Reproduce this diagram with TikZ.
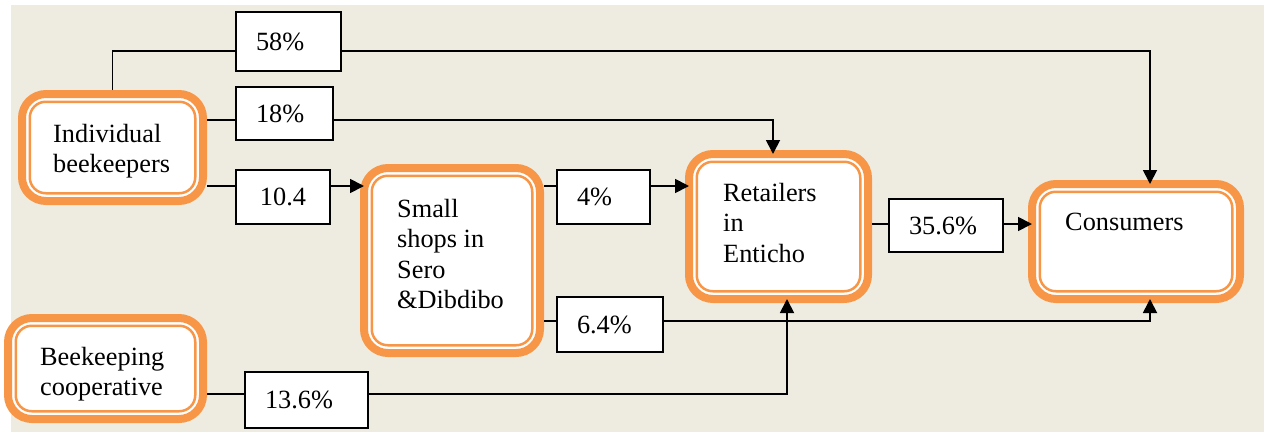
\documentclass[tikz,border=0pt]{standalone}
\usepackage{fontspec}
\setmainfont{Liberation Serif}
\usetikzlibrary{arrows.meta}
\definecolor{paper}{HTML}{EEECE1}
\definecolor{accent}{HTML}{F79646}
\newcommand{\innerring}[1]{%
  \draw[ringline] ([shift={(11.75,11.75)}]#1.north west) rectangle ([shift={(-11.75,-11.75)}]#1.south east);}
\begin{document}
\begin{tikzpicture}[x=1pt,y=-1pt,
  stage/.style={rectangle, draw=accent, line width=8pt, fill=white, rounded corners=24pt, inner sep=0pt},
  ringline/.style={draw=accent, line width=2.5pt, rounded corners=16pt},
  caption/.style={anchor=north west, inner sep=0pt, align=left, font=\fontsize{26.3pt}{30.5pt}\selectfont},
  share/.style={rectangle, draw=black, line width=1.6pt, fill=white, inner xsep=20pt, inner ysep=0pt,
                align=left, font=\fontsize{26.3pt}{30.5pt}\selectfont},
  flow/.style={draw=black, line width=1.8pt},
  into/.style={flow, -{Triangle[length=14pt,width=14pt]}, shorten >=-4pt}]

\useasboundingbox (0,0) rectangle (1264,432);
\fill[paper] (11,5) rectangle (1264,432);

% actors in the honey value chain
\node[stage, minimum width=181pt, minimum height=107pt] (A) at (112.5,147.5) {};
\node[stage, minimum width=195pt, minimum height=101pt] (B) at (105.5,368.5) {};
\node[stage, minimum width=176pt, minimum height=185pt] (C) at (452,260.5) {};
\node[stage, minimum width=179pt, minimum height=145pt] (D) at (778.5,226.5) {};
\node[stage, minimum width=208pt, minimum height=115pt] (E) at (1136,241.5) {};
\innerring{A}\innerring{B}\innerring{C}\innerring{D}\innerring{E}

\node[caption] (tA) at (53,124) {Individual\\beekeepers};
\node[caption] (tB) at (40,347) {Beekeeping\\cooperative};
\node[caption] (tC) at (397,199) {Small\\shops in\\Sero\\\&Dibdibo};
\node[caption] (tD) at (723,183) {Retailers\\in\\Enticho};
\node[caption] (tE) at (1065,213) {Consumers};

% share labels on the flows
\node[share, minimum width=105pt, minimum height=59pt, text width=65pt] (L58) at (288.5,41.5) {58\%};
\node[share, minimum width=97pt, minimum height=53pt, text width=57pt] (L18) at (284.5,113.5) {18\%};
\node[share, minimum width=94pt, minimum height=54pt, text width=54pt, align=center] (L104) at (283,197) {10.4};
\node[share, minimum width=93pt, minimum height=54pt, text width=53pt] (L4) at (603.5,197) {4\%};
\node[share, minimum width=106pt, minimum height=55pt, text width=66pt] (L64) at (610,324.5) {6.4\%};
\node[share, minimum width=123pt, minimum height=56pt, text width=83pt] (L136) at (306.5,400) {13.6\%};
\node[share, minimum width=114pt, minimum height=53pt, text width=74pt] (L356) at (946,225.5) {35.6\%};

% bend points of the connectors
\coordinate (k58) at (1150,51);
\coordinate (k18) at (773,120);
\coordinate (k104) at (0,186);
\coordinate (k64) at (1150,321);
\coordinate (k136) at (787,394);
\coordinate (k356) at (0,224);

\draw[flow] (A.north) |- (L58.west |- k58);
\draw[into] (L58.east |- k58) -| (E.north -| k58);

\draw[flow] (A.east |- k18) -- (L18.west |- k18);
\draw[into] (L18.east |- k18) -| (D.north -| k18);

\draw[flow] (A.east |- k104) -- (L104.west |- k104);
\draw[into] (L104.east |- k104) -- (C.west |- k104);

\draw[flow] (C.east |- k104) -- (L4.west |- k104);
\draw[into] (L4.east |- k104) -- (D.west |- k104);

\draw[flow] (C.east |- k64) -- (L64.west |- k64);
\draw[into] (L64.east |- k64) -| (E.south -| k64);

\draw[flow] (B.east |- k136) -- (L136.west |- k136);
\draw[into] (L136.east |- k136) -| (D.south -| k136);

\draw[flow] (D.east |- k356) -- (L356.west |- k356);
\draw[into] (L356.east |- k356) -- (E.west |- k356);
\end{tikzpicture}
\end{document}
